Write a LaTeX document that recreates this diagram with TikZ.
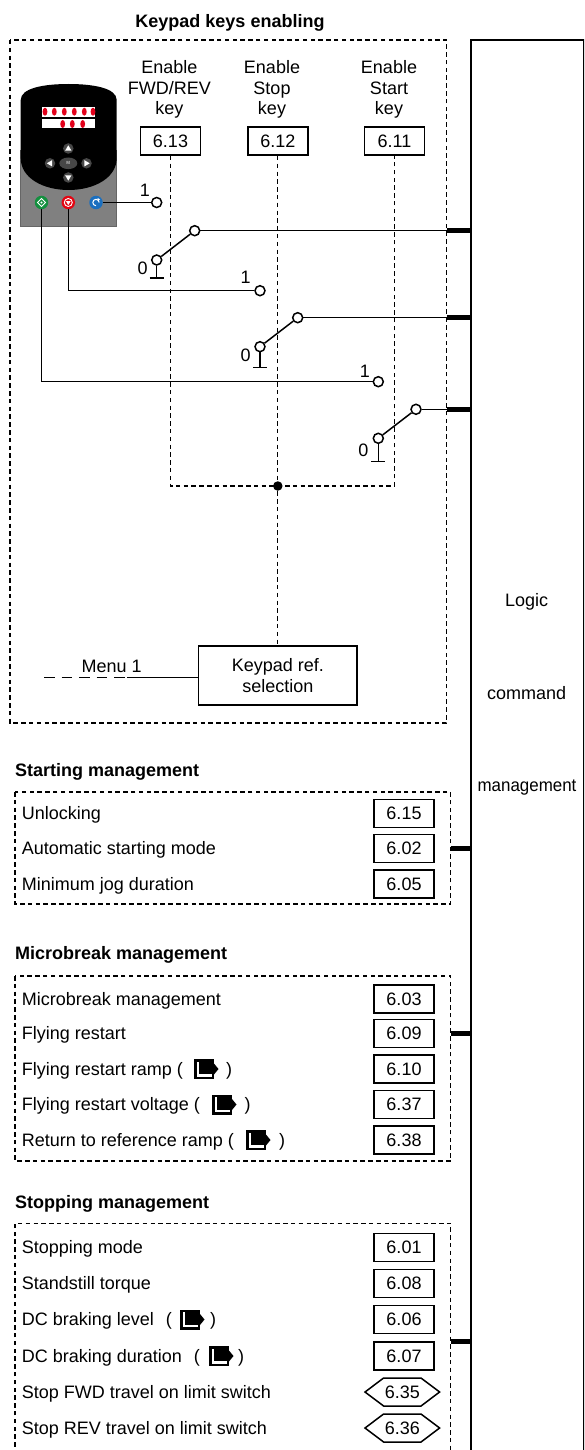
\documentclass[tikz,border=0pt]{standalone}
\usepackage{fontspec}
\usepackage{graphicx}
\setmainfont{Liberation Sans}
\usetikzlibrary{calc}

\definecolor{panelgray}{HTML}{808080}
\definecolor{ledred}{HTML}{E2001A}
\definecolor{btngreen}{HTML}{14903F}
\definecolor{btnred}{HTML}{E30613}
\definecolor{btnblue}{HTML}{1B6FBF}

\begin{document}
\begin{tikzpicture}[x=1pt,y=-1pt,
  every node/.style={font=\fontsize{18}{20.5}\selectfont, inner sep=0pt},
  lw/.style={line width=1.5pt},
  dashbox/.style={line width=1.3pt, dash pattern=on 4.5pt off 3.3pt},
  dotline/.style={line width=1.3pt, dash pattern=on 4.5pt off 3.3pt},
  pbox/.style={draw, line width=1.5pt, minimum width=60pt, minimum height=28pt,
               text height=12.9pt, text depth=0pt},
  refbox/.style={draw, line width=1.5pt, minimum width=158.7pt, minimum height=59pt, align=center},
  numtxt/.style={text height=12.9pt, text depth=0pt},
  contact/.style={circle, draw, line width=1.5pt, fill=white, minimum size=10pt},
  stub/.style={line width=5pt},
  rowtxt/.style={anchor=base west},
  head/.style={anchor=base west, font=\fontsize{18}{20.5}\selectfont\bfseries},
  navkey/.style={circle, fill=black!72, minimum size=10.5pt},
  btn/.style={circle, minimum size=13.5pt},
  mdicon/.pic={
    \fill (0,3.6) rectangle (20,-16.4);
    \fill (20,-0.9) -- (24.5,-6.4) -- (20,-11.9) -- cycle;
    \fill[white] (2.5,1.1) rectangle (17.5,-13.9);
    \fill (5,-1.4) rectangle (17.5,-13.9);
  }
]
\useasboundingbox (0,0) rectangle (584,1450);
\clip (0,0) rectangle (584,1450);

% ---------- logic command block on the right ----------
\node[draw, line width=1.8pt, minimum width=113pt, minimum height=1440pt, anchor=north west] (logic) at (470,39) {};
\node[anchor=base] (lg1) at (526.7,606.4) {Logic};
\node[anchor=base] (lg2) at (526.7,699.1) {command};
\node[anchor=base] (lg3) at (527,791.4) {\scalebox{0.94}[1]{management}};

% ---------- keypad keys enabling ----------
\node[anchor=base, font=\fontsize{18}{20.5}\selectfont\bfseries] (title) at (230,28) {Keypad keys enabling};
\draw[dashbox] (10,40) rectangle (446.7,723);

% keypad drawing
\filldraw[fill=panelgray, draw=black!60, line width=0.8pt] (20.7,150) rectangle (116.7,226.7);
\fill (20.7,158) -- (20.7,100) .. controls (20.7,88) and (44,84) .. (68.7,84)
      .. controls (93,84) and (116.7,88) .. (116.7,100) -- (116.7,158)
      .. controls (116.7,178) and (94,190) .. (68.7,190)
      .. controls (43,190) and (20.7,178) .. (20.7,158) -- cycle;
\fill[white] (41.7,106.7) rectangle (95,116.7);
\fill[white] (41.7,119.5) rectangle (95,128.3);
\foreach \x in {45,54.3,64.3,74.3,84.3,93}{\fill[ledred] (\x,111.7) ellipse [x radius=2.4pt, y radius=4pt];}
\foreach \x in {62.7,72.3,82.7}{\fill[ledred] (\x,124) ellipse [x radius=2.4pt, y radius=4pt];}
\node[navkey] (kup) at (68.3,148.5) {};
\node[navkey] (kdown) at (68.3,177.5) {};
\node[navkey] (kleft) at (50,163.3) {};
\node[navkey] (kright) at (86.5,163.3) {};
\fill[black!72] (68.3,163.3) ellipse [x radius=9pt, y radius=5.8pt];
\node[font=\fontsize{4.5}{4.5}\selectfont\bfseries, text=black!25] (mkey) at (68.3,163.3) {M};
\fill[white] (kup) ++(0,-3.2) -- ++(3.2,5.4) -- ++(-6.4,0) -- cycle;
\fill[white] (kdown) ++(0,3.2) -- ++(3.2,-5.4) -- ++(-6.4,0) -- cycle;
\fill[white] (kleft) ++(-3.2,0) -- ++(5.4,3.2) -- ++(0,-6.4) -- cycle;
\fill[white] (kright) ++(3.2,0) -- ++(-5.4,3.2) -- ++(0,-6.4) -- cycle;
\node[btn, fill=btngreen] (bgreen) at (41.5,202.5) {};
\node[btn, fill=btnred] (bred) at (68.3,202.5) {};
\node[btn, fill=btnblue] (bblue) at (96,202.5) {};
\draw[white, line width=0.9pt] (bgreen) ++(0,-4) -- ++(4,4) -- ++(-4,4) -- ++(-4,-4) -- cycle;
\fill[white] (bgreen) circle[radius=1.1pt];
\draw[white, line width=0.9pt] (bred) circle[radius=4pt];
\fill[white] (bred) ++(-2.4,-1.4) -- ++(4.8,0) -- ++(-2.4,3.9) -- cycle;
\draw[white, line width=1pt] (bblue) ++(3.2,0) arc[start angle=0, end angle=270, radius=3.2pt];
\fill[white] (bblue) ++(1.5,-4.6) -- ++(2.6,1.6) -- ++(-2.6,1.6) -- cycle;

% parameter boxes and their captions
\node[anchor=north, align=center] (l613) at (169.3,60.3) {Enable\\FWD/REV\\key};
\node[anchor=north, align=center] (l612) at (272,60.3) {Enable\\Stop\\key};
\node[anchor=north, align=center] (l611) at (389,60.3) {Enable\\Start\\key};
\node[pbox] (p613) at (170.5,141.2) {6.13};
\node[pbox] (p612) at (277.8,141.2) {6.12};
\node[pbox] (p611) at (394.5,141.2) {6.11};

% keypad reference selection
\node[refbox] (kref) at (277.8,675.5) {Keypad ref.\\selection};
\coordinate (d1) at (170.5,486);
\coordinate (d3) at (394.5,486);
\draw[dotline] (p613.south) -- (d1) -- (d3) -- (p611.south);
\draw[dotline] (p612.south) -- (kref.north);
\node[circle, fill, minimum size=9.5pt] (jdot) at (277.8,486) {};

\coordinate (m1) at (44,677.3);
\coordinate (m2) at (127,677.3);
\draw[line width=1.5pt, dash pattern=on 10.5pt off 7pt] (m1) -- (m2);
\draw[lw] (m2) -- (m2 -| kref.west);
\node[anchor=base] (menu) at (111.7,672.4) {Menu 1};

% switches
\node[contact] (c1one) at (156.7,202.5) {};
\node[contact] (c1up) at (194.7,230.7) {};
\node[contact] (c1zero) at (156.7,260) {};
\node[contact] (c2one) at (260,290.7) {};
\node[contact] (c2up) at (297.7,317.7) {};
\node[contact] (c2zero) at (260,346.7) {};
\node[contact] (c3one) at (378.3,381.7) {};
\node[contact] (c3up) at (416,409.3) {};
\node[contact] (c3zero) at (378.3,438.3) {};
\coordinate (g1) at (156.7,278);
\coordinate (g2) at (260,367.7);
\coordinate (g3) at (378.3,461.7);
\coordinate (s1) at (446.7,230.7);
\coordinate (s2) at (446.7,317.7);
\coordinate (s3) at (446.7,409.3);

\draw[lw] (bblue) -- (c1one);
\draw[lw] (bred) |- (c2one);
\draw[lw] (bgreen) |- (c3one);
\foreach \i in {1,2,3}{
  \draw[lw] (c\i zero) -- (c\i up);
  \draw[lw] (c\i up) -- (s\i);
  \draw[lw] (c\i zero) -- (g\i);
  \draw[lw] (g\i) ++(-7,0) -- ++(14,0);
  \draw[stub] (s\i) -- (logic.west |- s\i);
}
\node[numtxt] (n1) at (145,190) {1};
\node[numtxt] (n2) at (245.7,277) {1};
\node[numtxt] (n3) at (365,370.7) {1};
\node[numtxt] (z1) at (142.7,268) {0};
\node[numtxt] (z2) at (245.7,355) {0};
\node[numtxt] (z3) at (363.3,450) {0};

% ---------- starting management ----------
\node[head] (hstart) at (15,776.4) {Starting management};
\draw[dashbox] (15,792) rectangle (450.7,904);
\node[rowtxt] (a1) at (21.7,819.9) {Unlocking};
\node[rowtxt] (a2) at (21.7,854.9) {Automatic starting mode};
\node[rowtxt] (a3) at (21.7,890.4) {Minimum jog duration};
\node[pbox] (p615) at (404,813.5) {6.15};
\node[pbox] (p602) at (404,848.5) {6.02};
\node[pbox] (p605) at (404,884) {6.05};
\coordinate (st1) at (450.7,848.3);
\draw[stub] (st1) -- (logic.west |- st1);

% ---------- microbreak management ----------
\node[head] (hmicro) at (15,959.1) {Microbreak management};
\draw[dashbox] (15,976) rectangle (450.7,1161);
\node[rowtxt] (b1) at (21.7,1005.4) {Microbreak management};
\node[rowtxt] (b2) at (21.7,1039.9) {Flying restart};
\node[rowtxt] (b3) at (21.7,1075.4) {Flying restart ramp (};
\node[rowtxt] (b4) at (21.7,1110.9) {Flying restart voltage (};
\node[rowtxt] (b5) at (21.7,1146.4) {Return to reference ramp (};
\pic at (194,1075.4) {mdicon};
\node[rowtxt] (b3c) at (226,1075.4) {)};
\pic at (212,1110.9) {mdicon};
\node[rowtxt] (b4c) at (244.5,1110.9) {)};
\pic at (246,1146.4) {mdicon};
\node[rowtxt] (b5c) at (279,1146.4) {)};
\node[pbox] (p603) at (404,999) {6.03};
\node[pbox] (p609) at (404,1033.5) {6.09};
\node[pbox] (p610) at (404,1069) {6.10};
\node[pbox] (p637) at (404,1104.5) {6.37};
\node[pbox] (p638) at (404,1140) {6.38};
\coordinate (st2) at (450.7,1033.3);
\draw[stub] (st2) -- (logic.west |- st2);

% ---------- stopping management ----------
\node[head] (hstop) at (15,1208.1) {Stopping management};
\draw[dashbox] (15,1470) -- (15,1223.3) -- (450.7,1223.3) -- (450.7,1470);
\node[rowtxt] (c1) at (21.7,1253.9) {Stopping mode};
\node[rowtxt] (c2) at (21.7,1289.7) {Standstill torque};
\node[rowtxt] (c3) at (21.7,1325.9) {DC braking level\hspace{12pt}(};
\node[rowtxt] (c4) at (21.7,1362.4) {DC braking duration\hspace{12pt}(};
\node[rowtxt] (c5) at (21.7,1398.4) {Stop FWD travel on limit switch};
\node[rowtxt] (c6) at (21.7,1434.4) {Stop REV travel on limit switch};
\pic at (180,1325.9) {mdicon};
\node[rowtxt] (c3c) at (210,1325.9) {)};
\pic at (209,1362.4) {mdicon};
\node[rowtxt] (c4c) at (238,1362.4) {)};
\node[pbox] (p601) at (404,1247.5) {6.01};
\node[pbox] (p608) at (404,1283.3) {6.08};
\node[pbox] (p606) at (404,1319.5) {6.06};
\node[pbox] (p607) at (404,1356) {6.07};
\node[numtxt] (p635) at (402.3,1392) {6.35};
\node[numtxt] (p636) at (402.3,1428) {6.36};
\foreach \h in {p635,p636}{
  \draw[lw] (\h.center) ++(-37.3,0) -- ++(18.6,-14) -- ++(37.4,0) -- ++(18.6,14)
            -- ++(-18.6,14) -- ++(-37.4,0) -- cycle;
}
\coordinate (st3) at (450.7,1341);
\draw[stub] (st3) -- (logic.west |- st3);
\end{tikzpicture}
\end{document}
